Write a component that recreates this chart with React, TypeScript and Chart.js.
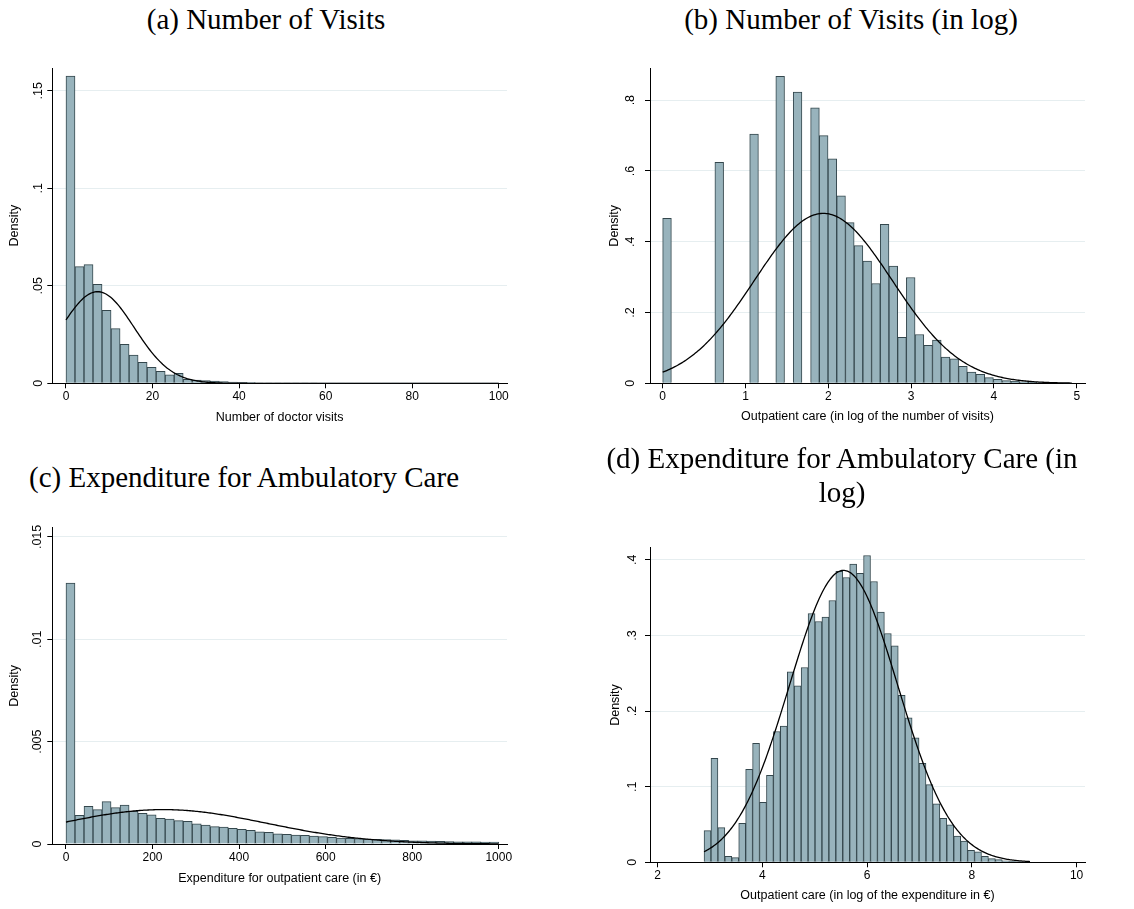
import React, { useEffect, useRef } from "react";
import { Chart, registerables } from "chart.js";

Chart.register(...registerables);

// ---------- Panel (a): Number of visits ----------
const aTitle = "(a) Number of Visits";
const aXTitle = "Number of doctor visits";
const aBinStart = 0;
const aBinWidth = 100 / 48;
const aDensity = [
  0.1576, 0.0598, 0.0609, 0.0508, 0.0374, 0.028, 0.02, 0.0145, 0.0108, 0.0082,
  0.0062, 0.0044, 0.0051, 0.0021, 0.0017, 0.0014, 0.0011, 0.0009, 0.0006, 0.0005,
  0.0004, 0.0003, 0.0002, 0.0002, 0.00015, 0.00012, 0.0001, 0.0001, 0.00008, 0.00008,
  0.00006, 0.00006, 0.00005, 0.00005, 0.00004, 0.00004, 0.00004, 0.00003, 0.00003, 0.00003,
  0.00003, 0.00002, 0.00002, 0.00002, 0.00002, 0.00002, 0.00002, 0.00002,
];
const aNormal = { mean: 7.3, sd: 8.49, from: 0, to: 100 };
const aXTicks = [0, 20, 40, 60, 80, 100];
const aYTicks = [0, 0.05, 0.1, 0.15];
const aYLabels = ["0", ".05", ".1", ".15"];

// ---------- Panel (b): Number of visits (log) ----------
const bTitle = "(b) Number of Visits (in log)";
const bXTitle = "Outpatient care (in log of the number of visits)";
const bBinStart = 0;
const bBinWidth = 0.1051;
const bDensity = [
  0.466, 0, 0, 0, 0, 0, 0.624, 0, 0, 0,
  0.704, 0, 0, 0.867, 0, 0.823, 0, 0.778, 0.7, 0.634,
  0.53, 0.454, 0.389, 0.345, 0.282, 0.449, 0.331, 0.13, 0.299, 0.138,
  0.107, 0.122, 0.074, 0.069, 0.048, 0.032, 0.025, 0.016, 0.011, 0.0075,
  0.0057, 0.004, 0.003, 0.002, 0.0012, 0.0008, 0.0005,
];
const bNormal = { mean: 1.94, sd: 0.831, from: 0, to: 4.94 };
const bXTicks = [0, 1, 2, 3, 4, 5];
const bYTicks = [0, 0.2, 0.4, 0.6, 0.8];
const bYLabels = ["0", ".2", ".4", ".6", ".8"];

// ---------- Panel (c): Expenditure ----------
const cTitle = "(c) Expenditure for Ambulatory Care";
const cXTitle = "Expenditure for outpatient care (in €)";
const cBinStart = 0;
const cBinWidth = 1000 / 48;
const cDensity = [
  0.01274, 0.0014, 0.00184, 0.00168, 0.00207, 0.00178, 0.0019, 0.00161, 0.0015, 0.00143,
  0.00125, 0.00122, 0.00114, 0.00111, 0.00099, 0.00093, 0.00085, 0.00083, 0.00077, 0.00072,
  0.00067, 0.0006, 0.00057, 0.0005, 0.00047, 0.00044, 0.00042, 0.00039, 0.00036, 0.00033,
  0.00029, 0.00028, 0.00026, 0.00024, 0.00023, 0.00021, 0.0002, 0.00018, 0.00016, 0.00015,
  0.00014, 0.00013, 0.00012, 0.00011, 0.0001, 0.0001, 0.00009, 0.00009,
];
const cNormal = { mean: 225, sd: 237.5, from: 0, to: 1000 };
const cXTicks = [0, 200, 400, 600, 800, 1000];
const cYTicks = [0, 0.005, 0.01, 0.015];
const cYLabels = ["0", ".005", ".01", ".015"];

// ---------- Panel (d): Expenditure (log) ----------
const dTitleLines = ["(d) Expenditure for Ambulatory Care (in", "log)"];
const dXTitle = "Outpatient care (in log of the expenditure in €)";
const dBinStart = 2.885;
const dBinWidth = 0.13245;
const dDensity = [
  0.0419, 0.1376, 0.0459, 0.0079, 0.0062, 0.0516, 0.123, 0.1574, 0.0794, 0.1151,
  0.1729, 0.18, 0.2518, 0.2333, 0.2576, 0.329, 0.3184, 0.3241, 0.3462, 0.3846,
  0.3766, 0.3943, 0.382, 0.4057, 0.3713, 0.3308, 0.3025, 0.2862, 0.2209, 0.191,
  0.1645, 0.131, 0.1028, 0.0772, 0.0582, 0.0494, 0.0348, 0.0282, 0.0159, 0.0137,
  0.0079, 0.0049, 0.0035, 0.002, 0.0013, 0.0009, 0.0005,
];
const dNormal = { mean: 5.55, sd: 1.0335, from: 2.885, to: 9.11 };
const dXTicks = [2, 4, 6, 8, 10];
const dYTicks = [0, 0.1, 0.2, 0.3, 0.4];
const dYLabels = ["0", ".1", ".2", ".3", ".4"];

// ---------- styling ----------
const BAR_FILL = "#98b3bc";
const BAR_EDGE = "#34474d";
const GRID = "#e6eef0";
const SANS = "'Liberation Sans', Arial, sans-serif";
const SERIF = "'Liberation Serif', 'Times New Roman', serif";
const XTICK_SIZE = 12;
const YTICK_SIZE = 12.5;
const AXTITLE_SIZE = 12.5;

type NormalSpec = { mean: number; sd: number; from: number; to: number };

function normalCurve(p: NormalSpec) {
  const pts: { x: number; y: number }[] = [];
  const n = 300;
  for (let i = 0; i <= n; i++) {
    const x = p.from + ((p.to - p.from) * i) / n;
    const z = (x - p.mean) / p.sd;
    pts.push({ x, y: Math.exp(-0.5 * z * z) / (p.sd * Math.sqrt(2 * Math.PI)) });
  }
  return pts;
}

type PanelProps = {
  box: { left: number; top: number; w: number; h: number };
  plot: { l: number; t: number; r: number; b: number };
  xMin: number;
  xMax: number;
  yMax: number;
  binStart: number;
  binWidth: number;
  density: number[];
  normal: NormalSpec;
  xTicks: number[];
  yTicks: number[];
  yLabels: string[];
  xTitle: string;
  yLabelX: number;
  densityX: number;
  xTitleY: number;
};

function Panel(props: PanelProps) {
  const ref = useRef<HTMLCanvasElement | null>(null);
  useEffect(() => {
    const canvas = ref.current;
    if (!canvas) return;
    const { box, plot } = props;
    const padTop = plot.t - box.top;
    const padRight = box.left + box.w - plot.r;
    const yW = plot.l - box.left;
    const xH = box.top + box.h - plot.b;
    const lh = AXTITLE_SIZE * 1.2;
    const yTitlePad = props.densityX - box.left - lh / 2;
    const xTitlePad = box.top + box.h - props.xTitleY - lh / 2;
    const labelX = props.yLabelX - box.left;

    const bars = props.density.map((v, i) => ({
      x: props.binStart + (i + 0.5) * props.binWidth,
      y: v,
    }));

    const yLabelPlugin = {
      id: "rotatedYLabels",
      afterDraw(chart: any) {
        const s = chart.scales.y;
        const ctx = chart.ctx;
        ctx.save();
        ctx.fillStyle = "#000";
        ctx.font = `${YTICK_SIZE}px ${SANS}`;
        ctx.textAlign = "center";
        ctx.textBaseline = "middle";
        s.ticks.forEach((t: any, i: number) => {
          const y = s.getPixelForValue(t.value);
          ctx.save();
          ctx.translate(labelX, y);
          ctx.rotate(-Math.PI / 2);
          ctx.fillText(props.yLabels[i], 0, 0);
          ctx.restore();
        });
        ctx.restore();
      },
    };

    const chart = new Chart(canvas, {
      type: "bar",
      data: {
        datasets: [
          {
            type: "line",
            data: normalCurve(props.normal),
            borderColor: "#000",
            borderWidth: 1.3,
            pointRadius: 0,
            fill: false,
            tension: 0,
            order: 1,
          } as any,
          {
            type: "bar",
            data: bars,
            backgroundColor: BAR_FILL,
            borderColor: BAR_EDGE,
            borderWidth: 1,
            categoryPercentage: 1,
            barPercentage: 1,
            order: 2,
          } as any,
        ],
      },
      options: {
        animation: false,
        responsive: false,
        maintainAspectRatio: false,
        layout: { padding: { left: 0, top: padTop, right: padRight, bottom: 0 } },
        plugins: { legend: { display: false }, tooltip: { enabled: false } },
        scales: {
          x: {
            type: "linear",
            min: props.xMin,
            max: props.xMax,
            offset: false,
            grid: {
              display: true,
              drawOnChartArea: false,
              offset: false,
              tickLength: 5,
              color: "#000",
              tickColor: "#000",
            },
            border: { display: true, color: "#000", width: 1 },
            ticks: {
              color: "#000",
              font: { family: SANS, size: XTICK_SIZE },
              padding: 1,
              maxRotation: 0,
              minRotation: 0,
              autoSkip: false,
              callback: (v: any) => String(v),
            },
            afterBuildTicks: (s: any) => {
              s.ticks = props.xTicks.map((v) => ({ value: v }));
            },
            afterFit: (s: any) => {
              s.height = xH;
            },
            title: {
              display: true,
              text: props.xTitle,
              color: "#000",
              font: { family: SANS, size: AXTITLE_SIZE },
              padding: { top: 0, bottom: xTitlePad },
            },
          } as any,
          y: {
            type: "linear",
            min: 0,
            max: props.yMax,
            grid: {
              display: true,
              drawOnChartArea: true,
              tickLength: 5,
              color: (c: any) => (c.tick && c.tick.value === 0 ? "rgba(0,0,0,0)" : GRID),
              tickColor: "#000",
            },
            border: { display: true, color: "#000", width: 1 },
            ticks: { display: false },
            afterBuildTicks: (s: any) => {
              s.ticks = props.yTicks.map((v) => ({ value: v }));
            },
            afterFit: (s: any) => {
              s.width = yW;
            },
            title: {
              display: true,
              text: "Density",
              color: "#000",
              font: { family: SANS, size: AXTITLE_SIZE },
              padding: { top: yTitlePad, bottom: 0 },
            },
          } as any,
        },
      },
      plugins: [yLabelPlugin],
    });
    return () => chart.destroy();
  }, []);

  const { box } = props;
  return (
    <canvas
      ref={ref}
      width={box.w}
      height={box.h}
      style={{ position: "absolute", left: box.left, top: box.top, width: box.w, height: box.h }}
    />
  );
}

function Title({ lines, center, baseline }: { lines: string[]; center: number; baseline: number }) {
  return (
    <div
      style={{
        position: "absolute",
        left: center - 350,
        width: 700,
        top: baseline - 26.8,
        textAlign: "center",
        fontFamily: SERIF,
        fontSize: 29,
        lineHeight: "34px",
        color: "#000",
        whiteSpace: "nowrap",
      }}
    >
      {lines.map((l, i) => (
        <div key={i}>{l}</div>
      ))}
    </div>
  );
}

export default function App() {
  return (
    <div
      style={{
        position: "absolute",
        left: 0,
        top: 0,
        width: 1134,
        height: 909,
        background: "#fff",
        overflow: "hidden",
      }}
    >
      <Panel
        box={{ left: 0, top: 50, w: 560, h: 390 }}
        plot={{ l: 52.3, t: 68, r: 507, b: 383.3 }}
        xMin={-3.16}
        xMax={101.9}
        yMax={0.1617}
        binStart={aBinStart}
        binWidth={aBinWidth}
        density={aDensity}
        normal={aNormal}
        xTicks={aXTicks}
        yTicks={aYTicks}
        yLabels={aYLabels}
        xTitle={aXTitle}
        yLabelX={38.5}
        densityX={15}
        xTitleY={417.2}
      />
      <Panel
        box={{ left: 570, top: 50, w: 564, h: 390 }}
        plot={{ l: 650, t: 68.3, r: 1085, b: 383.3 }}
        xMin={-0.153}
        xMax={5.1}
        yMax={0.89}
        binStart={bBinStart}
        binWidth={bBinWidth}
        density={bDensity}
        normal={bNormal}
        xTicks={bXTicks}
        yTicks={bYTicks}
        yLabels={bYLabels}
        xTitle={bXTitle}
        yLabelX={630.6}
        densityX={615}
        xTitleY={416.5}
      />
      <Panel
        box={{ left: 0, top: 505, w: 560, h: 404 }}
        plot={{ l: 52.3, t: 527.7, r: 507, b: 844 }}
        xMin={-31.6}
        xMax={1019}
        yMax={0.01545}
        binStart={cBinStart}
        binWidth={cBinWidth}
        density={cDensity}
        normal={cNormal}
        xTicks={cXTicks}
        yTicks={cYTicks}
        yLabels={cYLabels}
        xTitle={cXTitle}
        yLabelX={38}
        densityX={15}
        xTitleY={879}
      />
      <Panel
        box={{ left: 570, top: 530, w: 564, h: 379 }}
        plot={{ l: 650, t: 547.7, r: 1085, b: 862.3 }}
        xMin={1.853}
        xMax={10.16}
        yMax={0.416}
        binStart={dBinStart}
        binWidth={dBinWidth}
        density={dDensity}
        normal={dNormal}
        xTicks={dXTicks}
        yTicks={dYTicks}
        yLabels={dYLabels}
        xTitle={dXTitle}
        yLabelX={633}
        densityX={615.7}
        xTitleY={896}
      />
      <Title lines={[aTitle]} center={266} baseline={29} />
      <Title lines={[bTitle]} center={851} baseline={29} />
      <Title lines={[cTitle]} center={244} baseline={486.7} />
      <Title lines={dTitleLines} center={842} baseline={468} />
    </div>
  );
}
